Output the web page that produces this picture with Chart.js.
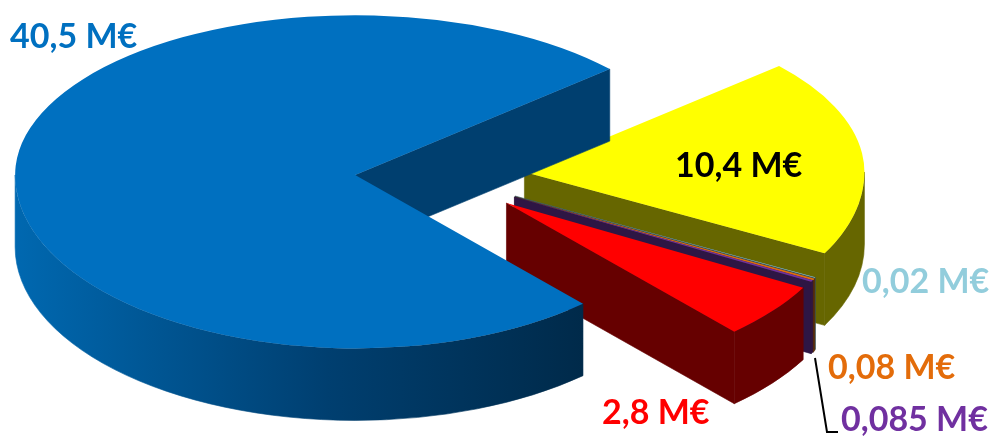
<!DOCTYPE html>
<html>
<head>
<meta charset="utf-8">
<title>Pie</title>
<script src="https://cdn.jsdelivr.net/npm/chart.js@4"></script>
<style>
  html, body { margin: 0; padding: 0; background: #fff; }
  canvas { display: block; }
</style>
</head>
<body>
<canvas id="pie" width="991" height="436"></canvas>
<script>
// values in M€, in clockwise order starting from the yellow slice
const sliceValues = [10.4, 0.02, 0.08, 0.085, 2.8, 40.5];
const sliceLabels = ['10,4 M€', '0,02 M€', '0,08 M€', '0,085 M€', '2,8 M€', '40,5 M€'];
const topColors = ['#ffff00', '#92cddc', '#e36c0a', '#7030a0', '#ff0000', '#0070c0'];
const wallColors = ['#666600', '#3a5258', '#5b2b04', '#2e1644', '#660000', '#003f6f'];
const labelColors = ['#000000', '#92cddc', '#e36c0a', '#7030a0', '#ff0000', '#0070c0'];
const labelSpots = [[675, 177], [862, 293], [828, 379], [841, 431], [602, 424], [10, 48]];

const squash = 0.485;       // flattening used to place the slices
const backSquash = 0.47;    // far half looks a bit flatter than the near half
const frontSquash = 0.51;
const explode = 85;         // how far every slice is pulled out
const depth = 72;           // height of the disc
const centerY = 177;

const pie3d = {
  id: 'pie3d',
  beforeDatasetsDraw(chart) {
    const ctx = chart.ctx;
    const w = chart.width;
    const h = chart.height;
    chart.getDatasetMeta(0).data.forEach((arc, i) => {
      const mid = (arc.startAngle + arc.endAngle) / 2;
      const dx = Math.cos(mid) * explode;
      const tipY = Math.round(centerY + Math.sin(mid) * explode * squash);
      drawWalls(ctx, arc, i, arc.x + dx, tipY);

      // the top is the library's own arc, moved and flattened
      [[backSquash, 0, tipY], [frontSquash, tipY, h]].forEach(([sq, y0, y1]) => {
        ctx.save();
        ctx.beginPath();
        ctx.rect(0, y0, w, y1 - y0);
        ctx.clip();
        ctx.translate(dx, tipY);
        ctx.scale(1, sq);
        ctx.translate(0, -arc.y);
        arc.draw(ctx);
        ctx.restore();
      });
    });
    return false;
  },
  afterDraw(chart) {
    const ctx = chart.ctx;
    // leader of the purple label
    ctx.strokeStyle = '#000';
    ctx.lineWidth = 2;
    ctx.beginPath();
    ctx.moveTo(815, 358);
    ctx.lineTo(827, 432);
    ctx.lineTo(838, 432);
    ctx.stroke();

    ctx.font = 'bold 34px Lato';
    ctx.textBaseline = 'alphabetic';
    sliceLabels.forEach((text, i) => {
      ctx.fillStyle = labelColors[i];
      ctx.fillText(text, labelSpots[i][0], labelSpots[i][1]);
    });
  }
};

function drawWalls(ctx, arc, i, x, y) {
  const a = arc.outerRadius;
  const b = a * frontSquash;
  const pt = t => {
    const s = Math.sin(t);
    return [x + Math.cos(t) * a, y + s * a * (s < 0 ? backSquash : frontSquash)];
  };

  // cut faces, only those turned towards the viewer
  ctx.fillStyle = wallColors[i];
  ctx.strokeStyle = wallColors[i];
  ctx.lineWidth = 0.6;
  const faces = [];
  if (Math.cos(arc.startAngle) < 0) faces.push(arc.startAngle);
  if (Math.cos(arc.endAngle) > 0) faces.push(arc.endAngle);
  faces.forEach(t => {
    const p = pt(t);
    ctx.beginPath();
    ctx.moveTo(x, y);
    ctx.lineTo(p[0], p[1]);
    ctx.lineTo(p[0], p[1] + depth);
    ctx.lineTo(x, y + depth);
    ctx.closePath();
    ctx.fill();
    ctx.stroke();
  });

  // outer wall, only the part that faces the viewer
  const turn = Math.PI * 2;
  const start = ((arc.startAngle % turn) + turn) % turn;
  const end = start + (arc.endAngle - arc.startAngle);
  [[start, end], [start - turn, end - turn]].forEach(([s0, e0]) => {
    const s = Math.max(s0, 0);
    const e = Math.min(e0, Math.PI);
    if (e <= s) return;
    let paint = wallColors[i];
    if (i === sliceValues.length - 1) {
      paint = ctx.createLinearGradient(x - a, 0, pt(s)[0], 0);
      paint.addColorStop(0, '#0068b0');
      paint.addColorStop(0.55, '#003f70');
      paint.addColorStop(1, '#002a4a');
    }
    ctx.fillStyle = paint;
    ctx.strokeStyle = paint;
    ctx.beginPath();
    ctx.ellipse(x, y, a, b, 0, s, e);
    ctx.ellipse(x, y + depth, a, b, 0, e, s, true);
    ctx.closePath();
    ctx.fill();
    ctx.stroke();
  });
}

new Chart(document.getElementById('pie'), {
  type: 'pie',
  data: {
    labels: sliceLabels,
    datasets: [{
      data: sliceValues,
      backgroundColor: topColors,
      borderWidth: 0
    }]
  },
  options: {
    responsive: false,
    animation: false,
    rotation: 48.5,
    radius: 340,
    layout: { padding: { right: 111 } },
    plugins: {
      legend: { display: false },
      tooltip: { enabled: false }
    }
  },
  plugins: [pie3d]
});
</script>
</body>
</html>
